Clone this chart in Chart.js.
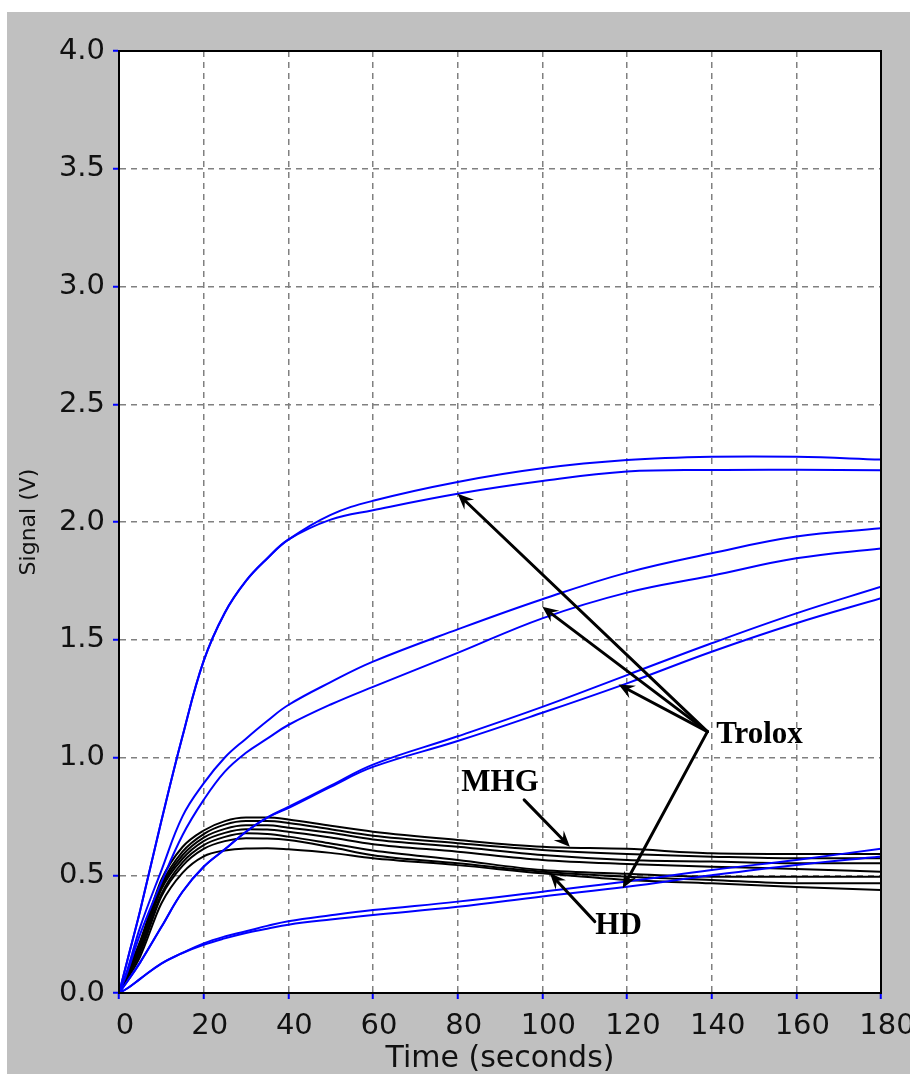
<!DOCTYPE html>
<html>
<head>
<meta charset="utf-8">
<script src="https://cdn.jsdelivr.net/npm/chart.js@4.4.1/dist/chart.umd.min.js"></script>
<style>
  html, body { margin: 0; padding: 0; background: #fff; }
  canvas { display: block; }
</style>
</head>
<body>
<canvas id="signalChart" width="910" height="1074"></canvas>
<script>
// sample times (seconds)
const times = [0, 2, 5, 10, 15, 20, 25, 30, 35, 40, 50, 60, 80, 100, 120, 140, 160, 180];

// Trolox runs (blue), in pairs
const troloxA1 = [0, 0.14, 0.35, 0.73, 1.09, 1.41, 1.615, 1.75, 1.845, 1.925, 2.03, 2.09, 2.17, 2.228, 2.263, 2.277, 2.277, 2.265];
const troloxA2 = [0, 0.14, 0.35, 0.73, 1.09, 1.41, 1.615, 1.75, 1.845, 1.925, 2.01, 2.05, 2.12, 2.174, 2.214, 2.221, 2.222, 2.22];
const troloxB1 = [0, 0.1, 0.28, 0.52, 0.75, 0.89, 1.0, 1.08, 1.155, 1.223, 1.32, 1.407, 1.544, 1.672, 1.785, 1.867, 1.938, 1.973];
const troloxB2 = [0, 0.09, 0.25, 0.47, 0.67, 0.82, 0.94, 1.02, 1.08, 1.138, 1.225, 1.3, 1.444, 1.591, 1.7, 1.772, 1.846, 1.888];
const troloxC1 = [0, 0.05, 0.13, 0.28, 0.43, 0.536, 0.61, 0.685, 0.745, 0.79, 0.88, 0.97, 1.09, 1.215, 1.35, 1.485, 1.612, 1.725];
const troloxC2 = [0, 0.05, 0.13, 0.28, 0.43, 0.536, 0.61, 0.685, 0.745, 0.785, 0.875, 0.96, 1.07, 1.19, 1.315, 1.449, 1.57, 1.676];
const troloxD1 = [0, 0.02, 0.06, 0.125, 0.17, 0.211, 0.24, 0.262, 0.285, 0.305, 0.33, 0.352, 0.388, 0.43, 0.473, 0.522, 0.565, 0.613];
const troloxD2 = [0, 0.02, 0.06, 0.125, 0.17, 0.205, 0.232, 0.255, 0.273, 0.29, 0.312, 0.331, 0.366, 0.41, 0.451, 0.5, 0.544, 0.58];

// MHG / HD runs (black)
const black1 = [0, 0.09, 0.22, 0.48, 0.62, 0.69, 0.73, 0.745, 0.745, 0.737, 0.71, 0.685, 0.65, 0.621, 0.612, 0.593, 0.59, 0.59];
const black2 = [0, 0.08, 0.21, 0.46, 0.6, 0.675, 0.715, 0.73, 0.73, 0.722, 0.695, 0.668, 0.636, 0.607, 0.59, 0.579, 0.572, 0.572];
const black3 = [0, 0.08, 0.2, 0.45, 0.585, 0.66, 0.697, 0.712, 0.712, 0.702, 0.68, 0.652, 0.621, 0.586, 0.565, 0.558, 0.551, 0.551];
const black4 = [0, 0.075, 0.19, 0.44, 0.57, 0.645, 0.68, 0.695, 0.694, 0.685, 0.66, 0.632, 0.6, 0.565, 0.548, 0.536, 0.527, 0.515];
const black5 = [0, 0.07, 0.18, 0.42, 0.555, 0.628, 0.663, 0.678, 0.675, 0.664, 0.635, 0.605, 0.565, 0.522, 0.506, 0.494, 0.494, 0.494];
const black6 = [0, 0.07, 0.17, 0.41, 0.54, 0.612, 0.645, 0.657, 0.656, 0.65, 0.62, 0.585, 0.551, 0.515, 0.494, 0.48, 0.466, 0.466];
const black7 = [0, 0.06, 0.155, 0.38, 0.51, 0.58, 0.605, 0.614, 0.615, 0.61, 0.595, 0.572, 0.543, 0.508, 0.48, 0.466, 0.45, 0.437];

// annotations, in data units
const labelText = ["Trolox", "MHG", "HD"];
const labelX = [151.3, 90, 118];
const labelY = [1.096, 0.892, 0.286];
const arrowFromX = [139, 139, 139, 139, 95.7, 112.4];
const arrowFromY = [1.11, 1.11, 1.11, 1.11, 0.82, 0.303];
const arrowToX = [80, 100, 118, 119, 106.5, 101.8];
const arrowToY = [2.12, 1.64, 1.31, 0.445, 0.621, 0.508];

const blueRuns = [troloxA1, troloxA2, troloxB1, troloxB2, troloxC1, troloxC2, troloxD1, troloxD2];
const blackRuns = [black1, black2, black3, black4, black5, black6, black7];

const toPoints = vals => times.map((t, i) => ({ x: t, y: vals[i] }));

const datasets = [
  ...blueRuns.map(v => ({ data: toPoints(v), borderColor: "#0000ff", cubicInterpolationMode: "default", tension: 0.4 })),
  ...blackRuns.map(v => ({ data: toPoints(v), borderColor: "#000000" }))
];

const frame = {
  id: "frame",
  beforeDraw(chart) {
    const { ctx, chartArea: a } = chart;
    ctx.save();
    ctx.fillStyle = "#fff";
    ctx.fillRect(0, 0, chart.width, chart.height);
    ctx.fillStyle = "#c0c0c0";
    ctx.fillRect(7, 12, chart.width - 7, chart.height - 12);
    ctx.fillStyle = "#fff";
    ctx.fillRect(a.left, a.top, a.right - a.left, a.bottom - a.top);
    ctx.restore();
  },
  afterDraw(chart) {
    const { ctx, chartArea: a } = chart;
    const xs = chart.scales.x, ys = chart.scales.y;
    ctx.save();
    ctx.strokeStyle = "#000";
    ctx.lineWidth = 2;
    ctx.strokeRect(a.left, a.top, a.right - a.left, a.bottom - a.top);

    // arrows
    ctx.fillStyle = "#000";
    ctx.lineWidth = 3;
    ctx.lineCap = "round";
    for (let i = 0; i < arrowFromX.length; i++) {
      const x0 = xs.getPixelForValue(arrowFromX[i]), y0 = ys.getPixelForValue(arrowFromY[i]);
      const x1 = xs.getPixelForValue(arrowToX[i]), y1 = ys.getPixelForValue(arrowToY[i]);
      const len = Math.hypot(x1 - x0, y1 - y0);
      const ux = (x1 - x0) / len, uy = (y1 - y0) / len;
      const px = -uy, py = ux;
      ctx.beginPath();
      ctx.moveTo(x0, y0);
      ctx.lineTo(x1 - ux * 8, y1 - uy * 8);
      ctx.stroke();
      ctx.beginPath();
      ctx.moveTo(x1, y1);
      ctx.lineTo(x1 - ux * 16 + px * 7, y1 - uy * 16 + py * 7);
      ctx.lineTo(x1 - ux * 10, y1 - uy * 10);
      ctx.lineTo(x1 - ux * 16 - px * 7, y1 - uy * 16 - py * 7);
      ctx.closePath();
      ctx.fill();
    }

    ctx.font = "bold 31px 'Liberation Serif', 'Times New Roman', serif";
    ctx.textAlign = "center";
    ctx.textBaseline = "middle";
    labelText.forEach((t, i) => {
      ctx.fillText(t, xs.getPixelForValue(labelX[i]), ys.getPixelForValue(labelY[i]));
    });
    ctx.restore();
  }
};

const tickFont = { family: "DejaVu Sans", size: 29 };

new Chart(document.getElementById("signalChart"), {
  type: "line",
  data: { datasets },
  plugins: [frame],
  options: {
    responsive: false,
    animation: false,
    events: [],
    layout: { padding: { top: 51, right: 29, left: 0, bottom: 0 } },
    plugins: { legend: { display: false }, tooltip: { enabled: false } },
    elements: {
      point: { radius: 0 },
      line: { borderWidth: 2, cubicInterpolationMode: "monotone", fill: false }
    },
    scales: {
      x: {
        type: "linear",
        min: 0,
        max: 180,
        ticks: { stepSize: 20, color: "#111", font: tickFont, padding: 10, labelOffset: 6, maxRotation: 0, autoSkip: false },
        grid: { color: "#808080", lineWidth: 1.5, tickColor: "#0000ff", tickLength: 6, tickWidth: 2 },
        border: { color: "#000", width: 2, dash: [6, 5] },
        title: { display: true, text: "Time (seconds)", color: "#111", font: { family: "DejaVu Sans", size: 30, lineHeight: 1 }, padding: 0 },
        afterFit: s => { s.height = 81; s.paddingLeft = 0; s.paddingRight = 0; }
      },
      y: {
        min: 0,
        max: 4,
        ticks: { stepSize: 0.5, color: "#111", font: tickFont, padding: 8, callback: v => v.toFixed(1) },
        grid: { color: "#808080", lineWidth: 1.5, tickColor: "#0000ff", tickLength: 6, tickWidth: 2 },
        border: { color: "#000", width: 2, dash: [6, 5] },
        title: { display: true, text: "Signal (V)", color: "#111", font: { family: "DejaVu Sans", size: 22, lineHeight: 1 }, padding: { top: 18, bottom: 0 } },
        afterFit: s => { s.width = 119; }
      }
    }
  }
});
</script>
</body>
</html>
